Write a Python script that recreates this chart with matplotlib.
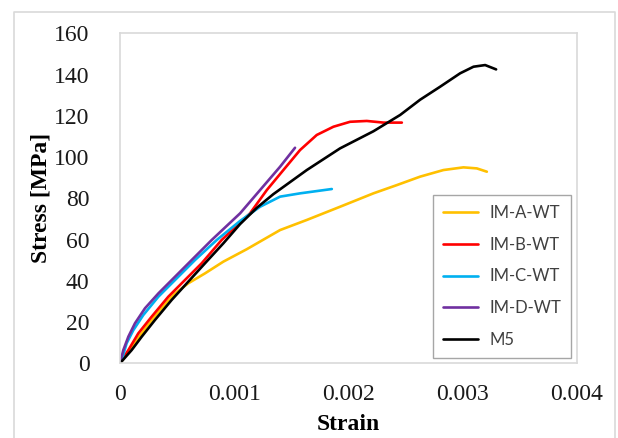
import matplotlib
matplotlib.use("Agg")
import matplotlib.pyplot as plt
import numpy as np

# strain values are in units of 1e-3
a_strain = [0, 0.088, 0.175, 0.29, 0.44, 0.482, 0.598, 0.744, 0.905, 1.109, 1.401, 1.635, 1.926, 2.218, 2.423, 2.627, 2.831, 3.006, 3.123, 3.211]
a_stress = [0, 6.4, 13.5, 21.8, 31.5, 33.9, 38.8, 43.6, 49.3, 55.3, 64.6, 69.5, 75.9, 82.4, 86.4, 90.5, 93.7, 95.0, 94.5, 92.9]

b_strain = [0, 0.073, 0.16, 0.277, 0.423, 0.569, 0.715, 0.89, 1.138, 1.285, 1.43, 1.576, 1.722, 1.868, 2.014, 2.16, 2.306, 2.467]
b_stress = [0, 6.4, 14.5, 22.6, 32.3, 40.4, 48.5, 59.8, 72.7, 84.0, 93.7, 103.4, 110.7, 114.7, 117.1, 117.5, 116.7, 116.7]

c_strain = [0, 0.015, 0.058, 0.117, 0.204, 0.336, 0.482, 0.657, 0.847, 1.051, 1.226, 1.401, 1.576, 1.722, 1.854]
c_stress = [0, 1.6, 9.7, 16.1, 23.4, 32.3, 40.4, 50.1, 59.8, 69.0, 75.9, 80.8, 82.4, 83.5, 84.5]

d_strain = [0, 0.029, 0.073, 0.131, 0.219, 0.336, 0.482, 0.628, 0.803, 1.051, 1.226, 1.401, 1.532]
d_stress = [0, 6.4, 12.9, 19.4, 26.7, 33.9, 42.0, 50.1, 59.8, 72.7, 84.0, 95.3, 104.5]

m5_strain = [0, 0.102, 0.19, 0.306, 0.452, 0.598, 0.744, 0.905, 1.051, 1.2, 1.342, 1.635, 1.926, 2.218, 2.452, 2.627, 2.802, 2.977, 3.094, 3.196, 3.292]
m5_stress = [0, 6.4, 12.9, 21.0, 30.7, 39.6, 48.5, 58.2, 67.5, 75.5, 82.0, 93.7, 104.2, 112.5, 120.4, 127.8, 134.1, 140.6, 143.8, 144.6, 142.5]

labels = ["IM-A-WT", "IM-B-WT", "IM-C-WT", "IM-D-WT", "M5"]
colors = ["#FFC000", "#FF0000", "#00B0F0", "#7030A0", "#000000"]
xticks = [0, 0.001, 0.002, 0.003, 0.004]
xticklabels = ["0", "0.001", "0.002", "0.003", "0.004"]
yticks = [0, 20, 40, 60, 80, 100, 120, 140, 160]

series = [(a_strain, a_stress), (b_strain, b_stress), (c_strain, c_stress),
          (d_strain, d_stress), (m5_strain, m5_stress)]

fig = plt.figure(figsize=(6.18, 4.38), dpi=100)
ax = fig.add_axes([120/618, 1-363.3/438, 457/618, 330/438])

for (sx, sy), lab, col in zip(series, labels, colors):
    ax.plot(np.array(sx)*1e-3, sy, color=col, lw=1.9, label=lab,
            solid_capstyle="round", solid_joinstyle="round")

ax.set_xlim(0, 0.004)
ax.set_ylim(0, 160)
ax.set_xticks(xticks)
ax.set_xticklabels(xticklabels)
ax.set_yticks(yticks)
for s in ax.spines.values():
    s.set_color("#d9d9d9")
    s.set_linewidth(1.2)
ax.tick_params(axis="both", length=0, labelsize=17, labelcolor="#1a1a1a")
ax.tick_params(axis="y", pad=22)
ax.tick_params(axis="x", pad=15)
for t in ax.get_xticklabels() + ax.get_yticklabels():
    t.set_family("Liberation Serif")

fig.text(348.5/618, 1-424/438, "Strain", ha="center", va="center",
         family="Liberation Serif", fontweight="bold", fontsize=17)
fig.text(41/618, 1-198/438, "Stress [MPa]", ha="center", va="center", rotation=90,
         family="Liberation Serif", fontweight="bold", fontsize=17)

leg = ax.legend(loc="lower right", bbox_to_anchor=(571/618, 1-358/438), bbox_transform=fig.transFigure,
                prop={"family": "Lato", "size": 12}, fancybox=False, framealpha=1,
                edgecolor="#a6a6a6", handlelength=2.1, handletextpad=0.68,
                labelspacing=0.95, borderpad=0.6, borderaxespad=0)
leg.get_frame().set_linewidth(1.0)
for t in leg.get_texts():
    t.set_color("#404040")

# outer chart border
fig.add_artist(plt.Line2D([14/618, 14/618, 615/618, 615/618], [0, 1-12/438, 1-12/438, 0],
                          transform=fig.transFigure, color="#d9d9d9", lw=1.2))

plt.savefig("out.png", dpi=100)
